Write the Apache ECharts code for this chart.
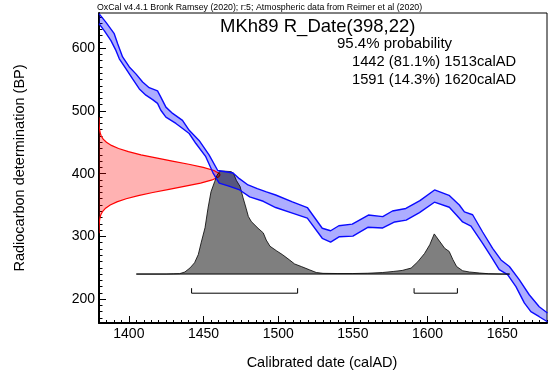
<!DOCTYPE html>
<html><head><meta charset="utf-8">
<script src="https://cdn.jsdelivr.net/npm/echarts@6/dist/echarts.min.js"></script>
<style>html,body{margin:0;padding:0;background:#fff}#c{width:552px;height:378px}</style>
</head><body><div id="c"></div>
<script>
// Calibration curve (IntCal20) band edges: [calAD] / [BP]
const upperYears = [1380,1384.7,1390.2,1392.5,1395.8,1400.3,1404.7,1409.2,1413.6,1419.2,1421.4,1424.8,1429.3,1435.9,1440.4,1447,1453.7,1459.5,1469.8,1474,1479.8,1486,1492.1,1498.3,1509.5,1519.5,1529.5,1535.1,1540.6,1549.6,1560.4,1570,1576.5,1585.5,1594.9,1604.7,1614.4,1621.3,1624.7,1630.2,1636.9,1643.6,1649.2,1654.8,1661.4,1668.1,1674.8,1680.3];
const upperBP    = [655,641,623,607,586,570,559,546,537,532,522,506,496,485,469,453,430,405,401,392,382,376,371,366,355,346,313,309,317,319.5,334,331.5,340.5,344.5,357,374,365.4,350,339,334.5,307,281,262.5,252,231,207,188,178];
const lowerYears = [1380,1383.5,1388,1391.4,1393.6,1398.1,1402.5,1407,1411.4,1415.9,1419.2,1421.4,1424.8,1431.5,1436,1440.4,1444.9,1451.5,1456.4,1460.5,1467,1474.2,1480.9,1490,1498.3,1509.5,1519.5,1529.5,1535.1,1541,1550,1560,1570,1578,1585.7,1594.6,1604.6,1614.6,1621.3,1623.5,1629.1,1636.9,1642.5,1648,1653.6,1659.2,1664.8,1669.2,1674.8,1680.3];
const lowerBP    = [639,628,612,596,583,567,551,535,525,518,512,501,490,480,472,464,448,427,401,385,380,374,363,356,346,337,329,297,291,299.5,300.5,314.5,313.5,323,326,338,354.5,346.5,329,323,316.5,289,268,247,239,220,194,180,172,164];

// R_Date(398,22) distribution on the BP axis: extent in years from the left edge
const rDateBP    = [305,310,315,320,325,330,335,340,345,350,355,360,365,370,375,380,385,390,395,398,400,405,410,415,420,425,430,435,440,445,450,455,460,465,470,475,480,490];
const rDateWidth = [0,0.03,0.07,0.15,0.33,0.68,1.3,2.5,4.4,7.5,12,18.2,26.3,36,46.9,57.9,68,75.8,80.2,81,80.7,77,69.8,60.1,49.1,38.2,28.1,19.7,13.1,8.3,5,2.8,1.5,0.8,0.38,0.18,0.08,0];

// Calibrated (posterior) probability, relative to peak = 100
const postYears = [1405,1425,1430,1434,1437.5,1441,1444,1446.5,1448.5,1451,1453,1455,1457.5,1459,1461,1464,1468.5,1470,1472,1474.5,1476.5,1478.5,1480,1482,1486.5,1490,1492,1494.5,1499,1503,1507.5,1511,1515.5,1521,1525.5,1530,1540,1550,1560,1570,1577,1583,1589,1593.5,1598,1601.5,1604.5,1608,1611.5,1614.5,1617,1619.5,1623.5,1628,1635,1641,1650,1655];
const postProb  = [0,0,0.2,0.4,2,6,11,19,31,45,64,80,90,96,100,100,99.5,98,91,85,74,64,56,51,44.5,40,33,27,22.5,18.7,13.8,9.8,7.3,4.1,1.5,0.7,0.5,0.5,0.8,1.5,2.5,3.5,5.8,12,20,28.5,39,32,25,22,14,7.3,3.2,2,1,0.3,0,0];

// 95.4% ranges
const rangeStart = [1442, 1591];
const rangeEnd   = [1513, 1620];

// Axis ticks
const xTickLabels = [1400,1450,1500,1550,1600,1650];
const yTickLabels = [200,300,400,500,600];

const X_MIN = 1380, X_MAX = 1680, Y_MIN = 162, Y_MAX = 656;
const BASE_BP = 240, PEAK_SPAN = 164, BRACKET_BP = 209.5, BRACKET_TICK = 8;

const xMinor = []; for (let v = X_MIN; v <= X_MAX; v += 5) xMinor.push(v);
const yMinor = []; for (let v = 170; v <= 650; v += 10) yMinor.push(v);

const FONT = 'Liberation Sans, Arial, Helvetica, sans-serif';

function clipGroup(params, children) {
  const cs = params.coordSys;
  return { type: 'group', clipPath: { type: 'rect', shape: { x: cs.x, y: cs.y, width: cs.width, height: cs.height } }, children };
}

const chart = echarts.init(document.getElementById('c'), null, { renderer: 'canvas' });

const series = [
  { // blue band fill
    type: 'custom', xAxisIndex: 0, yAxisIndex: 0, data: [[X_MIN, Y_MIN]], silent: true,
    renderItem: function (params, api) {
      const pts = [];
      for (let i = 0; i < upperYears.length; i++) pts.push(api.coord([upperYears[i], upperBP[i]]));
      for (let i = lowerYears.length - 1; i >= 0; i--) pts.push(api.coord([lowerYears[i], lowerBP[i]]));
      return clipGroup(params, [{ type: 'polygon', shape: { points: pts }, style: { fill: 'rgba(0,0,255,0.32)', stroke: null } }]);
    }
  },
  {
    type: 'line', xAxisIndex: 0, yAxisIndex: 0, showSymbol: false, silent: true,
    data: upperYears.map((y, i) => [y, upperBP[i]]),
    lineStyle: { color: '#0a0aff', width: 1.4 }
  },
  {
    type: 'line', xAxisIndex: 0, yAxisIndex: 0, showSymbol: false, silent: true,
    data: lowerYears.map((y, i) => [y, lowerBP[i]]),
    lineStyle: { color: '#0a0aff', width: 1.4 }
  },
  { // red R_Date distribution
    type: 'custom', xAxisIndex: 0, yAxisIndex: 0, data: [[X_MIN, Y_MIN]], silent: true,
    renderItem: function (params, api) {
      const curve = rDateBP.map((b, i) => api.coord([X_MIN + rDateWidth[i], b]));
      const poly = [api.coord([X_MIN, rDateBP[0]])].concat(curve, [api.coord([X_MIN, rDateBP[rDateBP.length - 1]])]);
      return clipGroup(params, [
        { type: 'polygon', shape: { points: poly }, style: { fill: 'rgba(255,0,0,0.3)', stroke: null } },
        { type: 'polyline', shape: { points: curve }, style: { fill: null, stroke: '#ff0000', lineWidth: 1.2 } }
      ]);
    }
  },
  { // grey posterior
    type: 'custom', xAxisIndex: 0, yAxisIndex: 0, data: [[X_MIN, Y_MIN]], silent: true,
    renderItem: function (params, api) {
      const curve = postYears.map((y, i) => api.coord([y, BASE_BP + postProb[i] / 100 * PEAK_SPAN]));
      return clipGroup(params, [
        { type: 'polygon', shape: { points: curve }, style: { fill: 'rgba(0,0,0,0.5)', stroke: null } },
        { type: 'polyline', shape: { points: curve }, style: { fill: null, stroke: '#000', lineWidth: 0.8 } }
      ]);
    }
  },
  { // baseline
    type: 'line', xAxisIndex: 0, yAxisIndex: 0, showSymbol: false, silent: true,
    data: [[postYears[0], BASE_BP], [postYears[postYears.length - 1], BASE_BP]],
    lineStyle: { color: '#000', width: 1 }
  }
];
rangeStart.forEach((s, i) => {
  series.push({
    type: 'line', xAxisIndex: 0, yAxisIndex: 0, showSymbol: false, silent: true,
    data: [[s, BRACKET_BP + BRACKET_TICK], [s, BRACKET_BP], [rangeEnd[i], BRACKET_BP], [rangeEnd[i], BRACKET_BP + BRACKET_TICK]],
    lineStyle: { color: '#000', width: 1 }
  });
});

const labelStyle = { color: '#000', fontSize: 14, fontFamily: FONT, formatter: v => String(v) };

chart.setOption({
  animation: false,
  backgroundColor: '#fff',
  grid: { left: 99, right: 5, top: 13, bottom: 55, show: true, borderColor: '#000', borderWidth: 1, backgroundColor: 'transparent' },
  xAxis: [
    { type: 'value', min: X_MIN, max: X_MAX, position: 'bottom', splitLine: { show: false },
      axisLine: { show: true, onZero: false, lineStyle: { color: '#000', width: 2 } },
      axisTick: { show: true, inside: true, length: 3, customValues: xMinor, lineStyle: { color: '#000', width: 1 } },
      axisLabel: { show: false } },
    { type: 'value', min: X_MIN, max: X_MAX, position: 'bottom', splitLine: { show: false },
      axisLine: { show: false, onZero: false },
      axisTick: { show: true, inside: true, length: 7, customValues: xTickLabels, lineStyle: { color: '#000', width: 1 } },
      axisLabel: Object.assign({ show: true, margin: 4, customValues: xTickLabels }, labelStyle) }
  ],
  yAxis: [
    { type: 'value', min: Y_MIN, max: Y_MAX, position: 'left', splitLine: { show: false },
      axisLine: { show: true, onZero: false, lineStyle: { color: '#000', width: 2 } },
      axisTick: { show: true, inside: true, length: 3.5, customValues: yMinor, lineStyle: { color: '#000', width: 1 } },
      axisLabel: { show: false } },
    { type: 'value', min: Y_MIN, max: Y_MAX, position: 'left', splitLine: { show: false },
      axisLine: { show: false, onZero: false },
      axisTick: { show: true, inside: true, length: 7, customValues: yTickLabels, lineStyle: { color: '#000', width: 1 } },
      axisLabel: Object.assign({ show: true, margin: 4, customValues: yTickLabels }, labelStyle) }
  ],
  graphic: [
    { type: 'text', x: 97, y: 8, silent: true, style: { text: 'OxCal v4.4.1 Bronk Ramsey (2020); r:5; Atmospheric data from Reimer et al (2020)', font: '8.8px ' + FONT, fill: '#000', textAlign: 'left', textVerticalAlign: 'middle' } },
    { type: 'text', x: 220, y: 27, silent: true, style: { text: 'MKh89 R_Date(398,22)', font: '18.5px ' + FONT, fill: '#000', textAlign: 'left', textVerticalAlign: 'middle' } },
    { type: 'text', x: 337, y: 44, silent: true, style: { text: '95.4% probability', font: '15px ' + FONT, fill: '#000', textAlign: 'left', textVerticalAlign: 'middle' } },
    { type: 'text', x: 352, y: 62, silent: true, style: { text: '1442 (81.1%) 1513calAD', font: '14.7px ' + FONT, fill: '#000', textAlign: 'left', textVerticalAlign: 'middle' } },
    { type: 'text', x: 352, y: 80, silent: true, style: { text: '1591 (14.3%) 1620calAD', font: '14.7px ' + FONT, fill: '#000', textAlign: 'left', textVerticalAlign: 'middle' } },
    { type: 'text', x: 322, y: 363, silent: true, style: { text: 'Calibrated date (calAD)', font: '14.5px ' + FONT, fill: '#000', textAlign: 'center', textVerticalAlign: 'middle' } },
    { type: 'text', x: 20, y: 168, rotation: Math.PI / 2, silent: true, style: { text: 'Radiocarbon determination (BP)', font: '14.5px ' + FONT, fill: '#000', textAlign: 'center', textVerticalAlign: 'middle' } }
  ],
  series: series
});
</script></body></html>
